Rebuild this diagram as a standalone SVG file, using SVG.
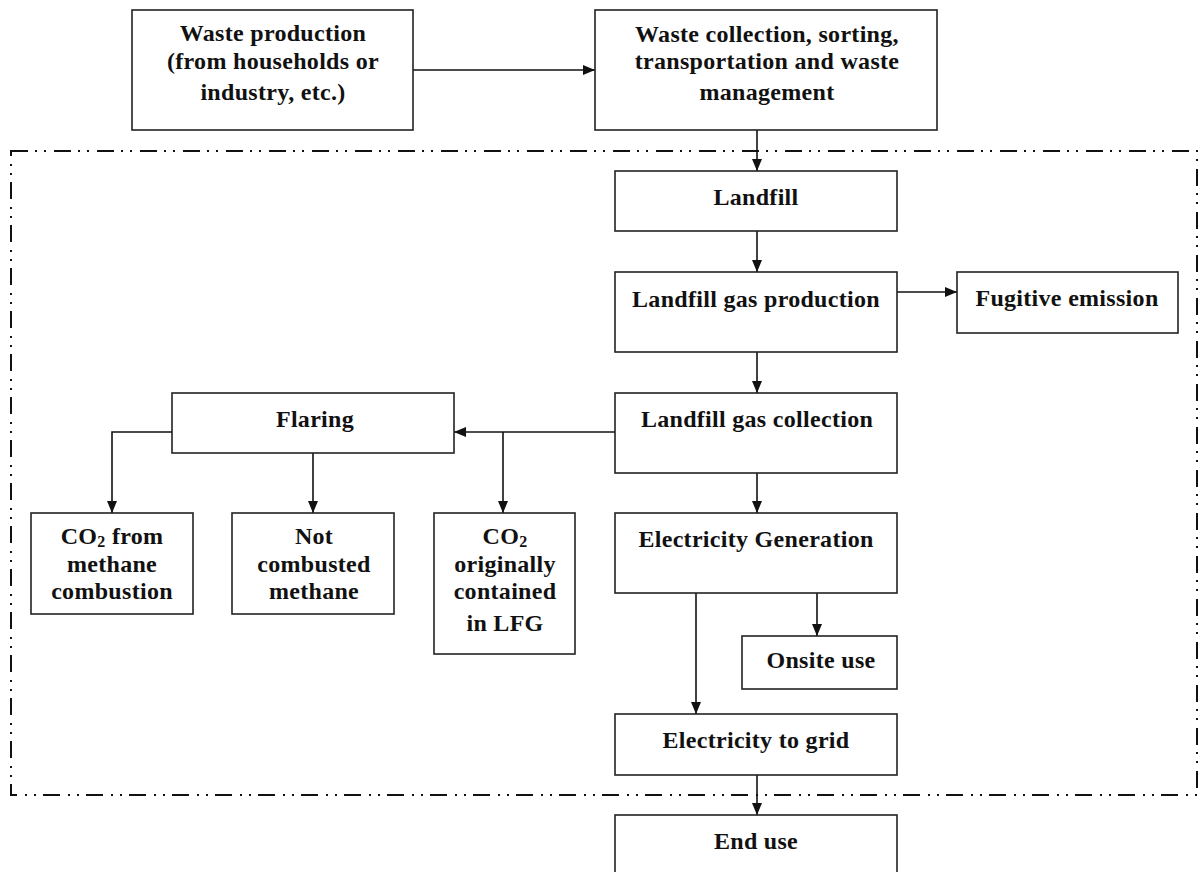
<svg xmlns="http://www.w3.org/2000/svg" width="1200" height="872" viewBox="0 0 1200 872">
<defs>
<marker id="ah" markerUnits="userSpaceOnUse" markerWidth="12" markerHeight="12" viewBox="0 0 12 12" refX="12" refY="6" orient="auto">
<path d="M0,1 L12,6 L0,11 Z" fill="#111"/>
</marker>
<style>
.box{fill:#fff;stroke:#222;stroke-width:1.6}
.t{font-family:"Liberation Serif","Times New Roman",serif;font-weight:bold;font-size:24px;letter-spacing:0.3px;fill:#111;text-anchor:middle}
.c{fill:none;stroke:#111;stroke-width:1.6}
.a{fill:none;stroke:#111;stroke-width:1.6;marker-end:url(#ah)}
.bd{fill:none;stroke:#111;stroke-width:2;stroke-dasharray:17 7 2 7 2 8}
</style>
</defs>
<rect width="1200" height="872" fill="#fff"/>
<g id="boundary">
<rect class="bd" x="11" y="151" width="1186" height="644"/>
</g>
<g id="connectors">
<line class="a" x1="413" y1="70" x2="595" y2="70"/>
<line class="a" x1="757" y1="130" x2="757" y2="171"/>
<line class="a" x1="757" y1="231" x2="757" y2="272"/>
<line class="a" x1="897" y1="292" x2="957" y2="292"/>
<line class="a" x1="757" y1="352" x2="757" y2="393"/>
<line class="a" x1="615" y1="432" x2="454" y2="432"/>
<line class="a" x1="503" y1="432" x2="503" y2="513"/>
<polyline class="a" points="172,432 112,432 112,513"/>
<line class="a" x1="313" y1="453" x2="313" y2="513"/>
<line class="a" x1="757" y1="473" x2="757" y2="513"/>
<line class="a" x1="817" y1="593" x2="817" y2="636"/>
<line class="a" x1="696" y1="593" x2="696" y2="714"/>
<line class="a" x1="757" y1="775" x2="757" y2="815"/>
</g>
<g id="waste-production">
<rect class="box" x="132" y="10" width="281" height="120"/>
<text class="t" x="273" y="41">Waste production</text>
<text class="t" x="273" y="69">(from households or</text>
<text class="t" x="273" y="100">industry, etc.)</text>
</g>
<g id="waste-collection">
<rect class="box" x="595" y="10" width="342" height="120"/>
<text class="t" x="767" y="42">Waste collection, sorting,</text>
<text class="t" x="767" y="69">transportation and waste</text>
<text class="t" x="767" y="100">management</text>
</g>
<g id="landfill">
<rect class="box" x="615" y="171" width="282" height="60"/>
<text class="t" x="756" y="205">Landfill</text>
</g>
<g id="lfg-production">
<rect class="box" x="615" y="272" width="282" height="80"/>
<text class="t" x="756" y="307">Landfill gas production</text>
</g>
<g id="fugitive-emission">
<rect class="box" x="957" y="272" width="221" height="61"/>
<text class="t" x="1067" y="306">Fugitive emission</text>
</g>
<g id="lfg-collection">
<rect class="box" x="615" y="393" width="282" height="80"/>
<text class="t" x="757" y="427">Landfill gas collection</text>
</g>
<g id="flaring">
<rect class="box" x="172" y="393" width="282" height="60"/>
<text class="t" x="315" y="427">Flaring</text>
</g>
<g id="co2-methane-combustion">
<rect class="box" x="31" y="513" width="162" height="101"/>
<text class="t" x="112" y="544">CO<tspan font-size="16" dy="3">2</tspan><tspan dy="-3"> from</tspan></text>
<text class="t" x="112" y="572">methane</text>
<text class="t" x="112" y="599">combustion</text>
</g>
<g id="not-combusted-methane">
<rect class="box" x="232" y="513" width="162" height="101"/>
<text class="t" x="314" y="544">Not</text>
<text class="t" x="314" y="572">combusted</text>
<text class="t" x="314" y="599">methane</text>
</g>
<g id="co2-original-lfg">
<rect class="box" x="434" y="513" width="141" height="141"/>
<text class="t" x="505" y="544">CO<tspan font-size="16" dy="3">2</tspan></text>
<text class="t" x="505" y="572">originally</text>
<text class="t" x="505" y="599">contained</text>
<text class="t" x="505" y="631">in LFG</text>
</g>
<g id="electricity-generation">
<rect class="box" x="615" y="513" width="282" height="80"/>
<text class="t" x="756" y="547">Electricity Generation</text>
</g>
<g id="onsite-use">
<rect class="box" x="742" y="636" width="155" height="53"/>
<text class="t" x="821" y="668">Onsite use</text>
</g>
<g id="electricity-to-grid">
<rect class="box" x="615" y="714" width="282" height="61"/>
<text class="t" x="756" y="748">Electricity to grid</text>
</g>
<g id="end-use">
<rect class="box" x="615" y="815" width="282" height="62"/>
<text class="t" x="756" y="849">End use</text>
</g>
</svg>
